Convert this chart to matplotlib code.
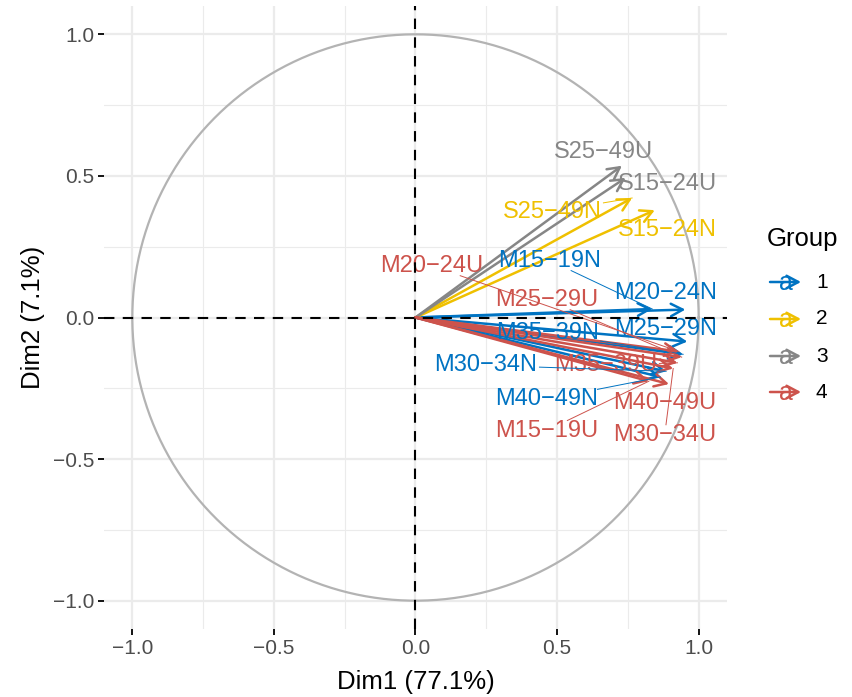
import matplotlib
matplotlib.use("Agg")
import matplotlib.pyplot as plt
import matplotlib.transforms as mtransforms
import numpy as np

plt.rcParams['font.family'] = ['Liberation Sans', 'DejaVu Sans']

# variable coordinates on the first two dimensions (correlation circle)
variables = ["M15-19N", "M20-24N", "M25-29N", "M30-34N", "M35-39N", "M40-49N",
             "S15-24N", "S25-49N", "S15-24U", "S25-49U",
             "M15-19U", "M20-24U", "M25-29U", "M30-34U", "M35-39U", "M40-49U"]
dim1 = [0.836, 0.953, 0.960, 0.885, 0.945, 0.865,
        0.845, 0.765, 0.742, 0.729,
        0.824, 0.930, 0.940, 0.910, 0.925, 0.895]
dim2 = [0.030, 0.028, -0.085, -0.190, -0.130, -0.210,
        0.379, 0.422, 0.493, 0.536,
        -0.225, -0.120, -0.140, -0.180, -0.160, -0.235]
groups = ["1"] * 6 + ["2"] * 2 + ["3"] * 2 + ["4"] * 6
group_levels = ["1", "2", "3", "4"]
dim1_pct = 77.1
dim2_pct = 7.1

# jco palette
palette = {"1": "#0073C2", "2": "#EFC000", "3": "#868686", "4": "#CD534C"}

# where the repelled labels ended up (layout, not data)
label_pos = {
    "M15-19N": (0.475, 0.208), "M20-24N": (0.883, 0.093), "M25-29N": (0.883, -0.035),
    "M30-34N": (0.249, -0.162), "M35-39N": (0.465, -0.046), "M40-49N": (0.463, -0.282),
    "S15-24N": (0.888, 0.317), "S25-49N": (0.482, 0.381), "S15-24U": (0.888, 0.478),
    "S25-49U": (0.665, 0.591), "M15-19U": (0.463, -0.392), "M20-24U": (0.056, 0.190),
    "M25-29U": (0.463, 0.070), "M30-34U": (0.880, -0.407), "M35-39U": (0.672, -0.162),
    "M40-49U": (0.880, -0.296),
}

W, H = 853, 697
fig = plt.figure(figsize=(W / 100, H / 100), dpi=100)
ax = fig.add_axes([104 / W, (H - 629) / H, (727 - 104) / W, (629 - 6) / H])

ax.set_xlim(-1.1, 1.1)
ax.set_ylim(-1.1, 1.1)
for s in ax.spines.values():
    s.set_visible(False)

# grid
major = [-1.0, -0.5, 0.0, 0.5, 1.0]
minor = [-0.75, -0.25, 0.25, 0.75]
for v in minor:
    ax.axvline(v, color="#EBEBEB", lw=0.8, zorder=0)
    ax.axhline(v, color="#EBEBEB", lw=0.8, zorder=0)
for v in major:
    ax.axvline(v, color="#EBEBEB", lw=1.6, zorder=0)
    ax.axhline(v, color="#EBEBEB", lw=1.6, zorder=0)

ax.set_xticks(major)
ax.set_yticks(major)
tick_labels = [f"{v:.1f}".replace("-", "\u2212") for v in major]
ax.set_xticklabels(tick_labels)
ax.set_yticklabels(tick_labels)
ax.tick_params(axis="both", length=4, width=1.3, color="black",
               labelsize=15, labelcolor="#4D4D4D", pad=3)

# correlation circle
theta = np.linspace(0, 2 * np.pi, 400)
ax.plot(np.cos(theta), np.sin(theta), color="#B3B3B3", lw=1.6, zorder=1)

# arrows
arrow_style = "->,head_length=0.85,head_width=0.45"
for name, x, y, g in zip(variables, dim1, dim2, groups):
    ax.annotate("", xy=(x, y), xytext=(0, 0),
                arrowprops=dict(arrowstyle=arrow_style, color=palette[g], lw=1.8,
                                shrinkA=0, shrinkB=0, mutation_scale=10),
                zorder=2)

# labels (nudged 2px down so the cap height sits centred)
text_tr = mtransforms.offset_copy(ax.transData, fig=fig, y=-2, units="dots")
texts = []
for name, g in zip(variables, groups):
    lx, ly = label_pos[name]
    t = ax.text(lx, ly, name.replace("-", "\u2212"), color=palette[g], fontsize=17,
                ha="center", va="center", zorder=3, transform=text_tr)
    texts.append(t)

ax.axhline(0, color="black", lw=1.5, ls=(0, (5, 4)), zorder=4)
ax.axvline(0, color="black", lw=1.5, ls=(0, (5, 4)), zorder=4)

ax.set_xlabel(f"Dim1 ({dim1_pct}%)", fontsize=18.5, labelpad=9)
ax.set_ylabel(f"Dim2 ({dim2_pct}%)", fontsize=18.5, labelpad=6)

# segments from label box to arrow tip (ggrepel style)
fig.canvas.draw()
inv = ax.transData.inverted()
for t, x, y, g in zip(texts, dim1, dim2, groups):
    bb = t.get_window_extent()
    cx, cy = (bb.x0 + bb.x1) / 2, (bb.y0 + bb.y1) / 2
    hw, hh = bb.width / 2 + 2, bb.height / 2 - 1
    tx, ty = ax.transData.transform((x, y))
    dx, dy = tx - cx, ty - cy
    ts = []
    if abs(dx) > 1e-9:
        ts.append(hw / abs(dx))
    if abs(dy) > 1e-9:
        ts.append(hh / abs(dy))
    tt = min(ts)
    if tt >= 1:
        continue
    rest = (1 - tt) * np.hypot(dx, dy)
    if rest < 14:
        continue
    p0 = inv.transform((cx + tt * dx, cy + tt * dy))
    ax.plot([p0[0], x], [p0[1], y], color=palette[g], lw=0.7, zorder=3)

# legend drawn in figure pixels
lax = fig.add_axes([0, 0, 1, 1], facecolor="none")
lax.set_xlim(0, W)
lax.set_ylim(H, 0)
lax.axis("off")
lax.text(767, 239, "Group", fontsize=18.5, ha="left", va="center")
key_y = [282, 319, 356, 392]
for g, ky in zip(group_levels, key_y):
    lax.annotate("", xy=(801, ky), xytext=(770, ky),
                 arrowprops=dict(arrowstyle=arrow_style, color=palette[g], lw=1.8,
                                 shrinkA=0, shrinkB=0, mutation_scale=10))
    lax.text(786, ky + 1, "a", color=palette[g], fontsize=18, ha="center", va="center")
    lax.text(816, ky, g, fontsize=15, ha="left", va="center")

fig.savefig("out.png", dpi=100)
